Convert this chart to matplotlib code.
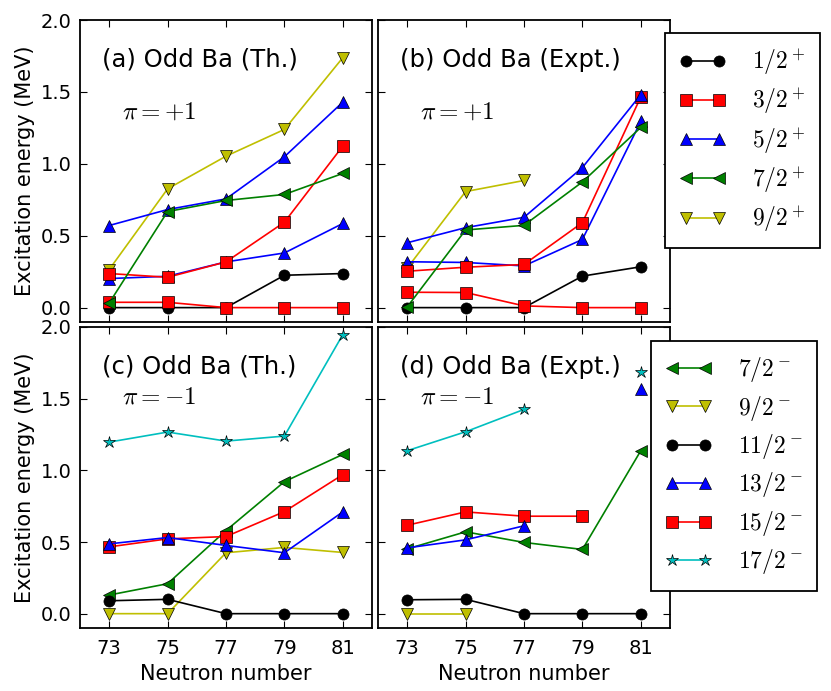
import numpy as np
import matplotlib
matplotlib.use("Agg")
import matplotlib.pyplot as plt

matplotlib.rcParams.update({
    'font.family': 'DejaVu Sans',
    'mathtext.fontset': 'cm',
    'xtick.direction': 'in',
    'ytick.direction': 'in',
    'xtick.top': True,
    'ytick.right': True,
    'xtick.major.size': 5,
    'ytick.major.size': 5,
    'xtick.major.pad': 8,
    'ytick.major.pad': 6,
    'xtick.labelsize': 14,
    'ytick.labelsize': 14,
    'axes.linewidth': 1.3,
})

nan = np.nan
N = [73, 75, 77, 79, 81]

# (a) theory, pi = +1
th_p_12 = [0.0, 0.0, 0.0, 0.225, 0.237]
th_p_32 = [0.237, 0.211, 0.318, 0.594, 1.123]
th_p_32b = [0.037, 0.037, 0.0, 0.0, 0.0]
th_p_52 = [0.571, 0.682, 0.756, 1.049, 1.429]
th_p_52b = [0.202, 0.218, 0.318, 0.380, 0.585]
th_p_72 = [0.032, 0.668, 0.745, 0.787, 0.933]
th_p_92 = [0.265, 0.826, 1.053, 1.239, 1.738]

# (b) experiment, pi = +1
ex_p_12 = [0.0, 0.0, 0.0, 0.219, 0.284]
ex_p_32 = [0.253, 0.281, 0.300, 0.591, 1.465]
ex_p_32b = [0.107, 0.105, 0.012, 0.0, 0.0]
ex_p_52 = [0.451, 0.556, 0.628, 0.974, 1.481]
ex_p_52b = [0.319, 0.314, 0.290, 0.474, 1.295]
ex_p_72 = [0.005, 0.540, 0.572, 0.874, 1.253]
ex_p_92 = [0.275, 0.807, 0.884, nan, nan]

# (c) theory, pi = -1
th_m_72 = [0.130, 0.209, 0.580, 0.921, 1.111]
th_m_92 = [0.0, 0.0, 0.425, 0.462, 0.427]
th_m_112 = [0.090, 0.100, 0.0, 0.0, 0.0]
th_m_132 = [0.487, 0.531, 0.476, 0.425, 0.710]
th_m_152 = [0.466, 0.522, 0.538, 0.712, 0.970]
th_m_172 = [1.197, 1.267, 1.204, 1.239, 1.947]

# (d) experiment, pi = -1
ex_m_72 = [0.452, 0.571, 0.497, 0.448, 1.137]
ex_m_92 = [0.0, 0.0, nan, nan, nan]
ex_m_112 = [0.097, 0.100, 0.0, 0.0, 0.0]
ex_m_132 = [0.459, 0.515, 0.613, nan, 1.564]
ex_m_152 = [0.617, 0.710, 0.680, 0.680, nan]
ex_m_172 = [1.137, 1.269, 1.425, nan, 1.689]

sty = {
    '1/2': ('k', 'o'), '3/2': ('r', 's'), '5/2': ('b', '^'),
    '7/2': ('g', '<'), '9/2': ('y', 'v'), '11/2': ('k', 'o'),
    '13/2': ('b', '^'), '15/2': ('r', 's'), '17/2': ('c', '*'),
}
colors = {'k': 'black', 'r': 'red', 'b': 'blue', 'g': 'green', 'y': '#bfbf00', 'c': '#00bfbf'}


def draw(ax, y, j, label=None, z=2):
    c, m = sty[j]
    ms = 9 if m == '*' else 8
    return ax.plot(N, y, color=colors[c], marker=m, ms=ms, mec='k', mew=0.5,
                   lw=1.2, label=label, zorder=z)[0]


fig = plt.figure(figsize=(8.31, 6.91), dpi=100)
W, H = 831.0, 691.0
ax_a = fig.add_axes([80 / W, (H - 322) / H, 292 / W, 302 / H])
ax_b = fig.add_axes([378 / W, (H - 322) / H, 292 / W, 302 / H])
ax_c = fig.add_axes([80 / W, (H - 628) / H, 292 / W, 301 / H])
ax_d = fig.add_axes([378 / W, (H - 628) / H, 292 / W, 301 / H])

# positive parity panels
for ax, s in ((ax_a, (th_p_12, th_p_32, th_p_32b, th_p_52, th_p_52b, th_p_72, th_p_92)),
              (ax_b, (ex_p_12, ex_p_32, ex_p_32b, ex_p_52, ex_p_52b, ex_p_72, ex_p_92))):
    h1 = draw(ax, s[0], '1/2', r'$1/2^+$', 2)
    h9 = draw(ax, s[6], '9/2', r'$9/2^+$', 2.1)
    draw(ax, s[4], '5/2', None, 2.2)
    h3 = draw(ax, s[1], '3/2', r'$3/2^+$', 2.3)
    draw(ax, s[2], '3/2', None, 2.3)
    h5 = draw(ax, s[3], '5/2', r'$5/2^+$', 2.4)
    h7 = draw(ax, s[5], '7/2', r'$7/2^+$', 2.5)
    hp = [h1, h3, h5, h7, h9]

# negative parity panels
for ax, s in ((ax_c, (th_m_72, th_m_92, th_m_112, th_m_132, th_m_152, th_m_172)),
              (ax_d, (ex_m_72, ex_m_92, ex_m_112, ex_m_132, ex_m_152, ex_m_172))):
    g7 = draw(ax, s[0], '7/2', r'$7/2^-$', 2.0)
    g9 = draw(ax, s[1], '9/2', r'$9/2^-$', 2.1)
    g11 = draw(ax, s[2], '11/2', r'$11/2^-$', 2.2)
    g15 = draw(ax, s[4], '15/2', r'$15/2^-$', 2.3)
    g13 = draw(ax, s[3], '13/2', r'$13/2^-$', 2.4)
    g17 = draw(ax, s[5], '17/2', r'$17/2^-$', 2.5)
    hm = [g7, g9, g11, g13, g15, g17]

titles = {ax_a: '(a) Odd Ba (Th.)', ax_b: '(b) Odd Ba (Expt.)',
          ax_c: '(c) Odd Ba (Th.)', ax_d: '(d) Odd Ba (Expt.)'}
for ax in (ax_a, ax_b, ax_c, ax_d):
    ax.set_xlim(72, 82)
    ax.set_ylim(-0.1, 2.0)
    ax.set_xticks(N)
    ax.set_yticks([0.0, 0.5, 1.0, 1.5, 2.0])
    ax.set_yticklabels(['0.0', '0.5', '1.0', '1.5', '2.0'])
    ax.text(0.075, 0.845, titles[ax], transform=ax.transAxes, fontsize=17.5, va='baseline')

for ax in (ax_a, ax_b):
    ax.text(0.143, 0.675, r'$\pi=+1$', transform=ax.transAxes, fontsize=18, va='baseline')
    ax.tick_params(labelbottom=False)
for ax in (ax_c, ax_d):
    ax.text(0.143, 0.745, r'$\pi=-1$', transform=ax.transAxes, fontsize=18, va='baseline')
    ax.set_xlabel('Neutron number', fontsize=15)
for ax in (ax_b, ax_d):
    ax.tick_params(labelleft=False)
for ax in (ax_a, ax_c):
    ax.set_ylabel('Excitation energy (MeV)', fontsize=15)

kw = dict(loc='upper left', bbox_transform=fig.transFigure, numpoints=2, fancybox=False,
          fontsize=17, handlelength=2.0, handletextpad=1.1, labelspacing=0.4,
          borderpad=0.6, borderaxespad=0)
leg1 = ax_b.legend(hp, [h.get_label() for h in hp], bbox_to_anchor=(665 / W, (H - 33) / H), **kw)
leg2 = ax_d.legend(hm, [h.get_label() for h in hm], bbox_to_anchor=(651 / W, (H - 341) / H), **kw)
for leg in (leg1, leg2):
    leg.get_frame().set_edgecolor('k')
    leg.get_frame().set_linewidth(1.3)
    leg.get_frame().set_alpha(1)
    leg.set_zorder(5)

fig.savefig('out.png', dpi=100, facecolor='white')
